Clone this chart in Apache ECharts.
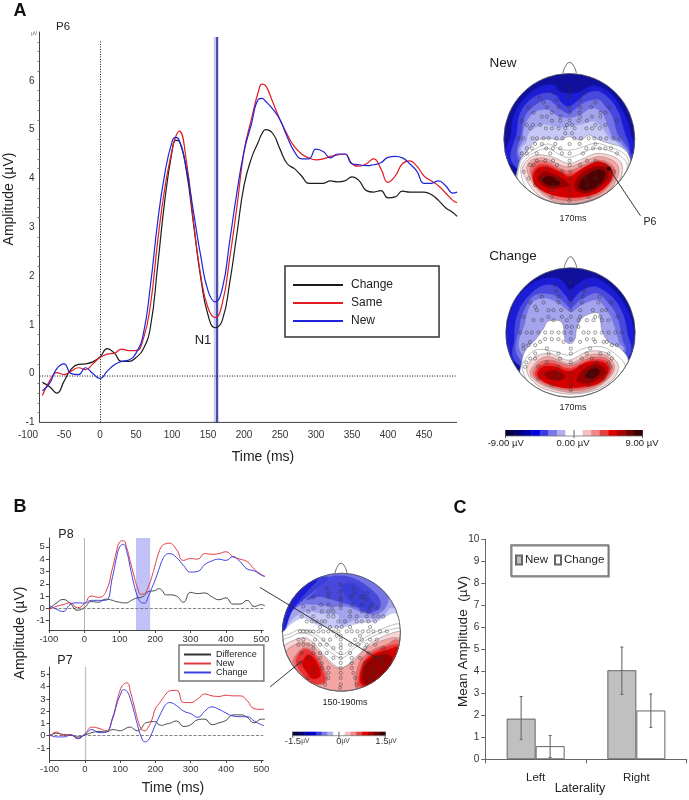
<!DOCTYPE html>
<html><head><meta charset="utf-8"><style>html,body{margin:0;background:#fff}#c{width:689px;height:800px}</style>
<script src="https://cdn.jsdelivr.net/npm/echarts@6/dist/echarts.min.js"></script></head><body><div id="c"></div>
<script>
// ---------- Panel A waveforms (ms, µV)
const timesA=[-80,-70,-60,-50,-40,-30,-20,-10,0,10,20,30,40,50,60,70,80,90,100,105,110,120,130,140,150,160,170,180,190,200,210,220,225,230,240,250,260,270,280,290,300,310,320,330,340,350,360,370,380,390,400,410,420,430,440,450,460,470,480,490,496];
const changeA=[-.18,-.27,-.4,-.16,.09,.19,.2,.24,.34,.51,.42,.25,.25,.33,.5,.95,2.2,3.55,4.55,4.78,4.76,4.15,3.05,1.95,1.2,.94,1.1,1.85,2.85,3.85,4.4,4.75,4.92,5.0,4.92,4.6,4.3,4.2,4.05,3.9,3.9,3.9,3.95,3.93,3.95,4.03,3.95,3.75,3.72,3.75,3.6,3.62,3.74,3.72,3.72,3.72,3.67,3.55,3.4,3.3,3.22];
const sameA=[-.45,-.15,.02,-.02,.05,.12,.08,.2,.33,.4,.42,.5,.47,.47,.7,1.4,2.7,3.8,4.57,4.85,4.97,4.35,3.1,2,1.35,1.15,1.45,2.35,3.4,4.55,5.2,5.78,5.93,5.9,5.56,5.2,4.9,4.65,4.5,4.42,4.38,4.4,4.45,4.48,4.5,4.3,4.25,4.3,4.4,4.2,3.92,4.05,4.3,4.36,4.25,4.05,3.95,3.85,3.7,3.55,3.5];
const newA=[-.35,-.2,.1,.2,0,-.02,.12,0,-.1,.05,.18,.25,.28,.42,.8,1.8,3.1,4.1,4.75,4.84,4.78,4.2,3.3,2.4,1.7,1.47,1.75,2.7,3.7,4.55,5.1,5.62,5.64,5.58,5.42,5.2,4.85,4.55,4.4,4.4,4.6,4.55,4.42,4.5,4.5,4.3,4.28,4.26,4.28,4.32,4.43,4.45,4.42,4.3,4.15,3.9,3.9,3.95,3.85,3.7,3.72];
const xTicksA=[-100,-50,0,50,100,150,200,250,300,350,400,450];
const n1Window=[158,165], n1Peak=161.6;
// ---------- Panel B waveforms
const timesB=[-100,-80,-60,-40,-20,0,20,40,60,80,90,100,110,120,130,140,150,160,170,180,190,200,210,220,230,240,260,280,300,320,340,360,380,400,420,440,460,480,500,510];
const diffP8=[-.05,.4,.72,.4,-.15,.05,.55,.5,.75,.65,.55,.5,.45,.45,.6,.75,.85,.9,1.05,1.35,1.4,1.45,1.6,1.45,1.1,1.1,1,.5,1.3,1.2,1.25,.95,.7,.85,.35,.35,.65,.15,.3,.2];
const newP8=[-.1,.15,.3,.45,.05,.35,1,.9,1.3,3.3,4.5,5.4,5.5,4.9,3.8,2.7,1.7,1.15,1.2,1.7,2.5,3.5,4.5,5.1,5.25,5.3,4.8,3.9,4.05,4,4.45,4.4,4.45,4.6,4.2,4,3.8,3.2,2.75,2.6];
const changeP8=[.25,-.05,-.25,.3,.45,.42,.65,.65,.65,2.6,4,5,5.2,4.6,3.3,2,1,.5,.42,.9,1.6,2.3,3.1,3.9,4.35,4.45,4.15,3.5,2.95,3,3.55,3.85,4,3.9,4.2,3.8,3.2,3.05,2.7,2.6];
const diffP7=[0,.2,.1,.05,-.1,.05,.25,.35,.3,.5,.45,.4,.5,.65,.7,.5,.4,.6,1,1.1,1.15,1.15,.9,.85,.95,1,1.2,.75,.9,1.3,1.35,.9,1.05,1.25,1.7,1.7,1.5,1.05,1.35,1.35];
const newP7=[-.1,.3,0,.1,-.25,.15,.7,.6,.4,1.6,2.7,3.7,4.2,4.3,3.5,2.4,1.3,.55,.4,.7,1.3,2.2,2.6,3,3.4,3.65,3.7,2.7,2.7,3,3.4,3.25,3.2,3.3,3.25,3.25,2.85,2.2,2.15,2.2];
const changeP7=[.1,-.1,-.1,.05,-.2,.1,.5,.25,.3,1.5,2.5,3.3,3.75,3.6,2.9,1.9,.8,-.1,-.5,-.35,.2,.9,1.5,2.1,2.55,2.7,2.45,2,1.8,1.5,2,2.35,2.15,1.85,1.6,1.55,1.55,1.2,.9,.8];
const xTicksB=[-100,0,100,200,300,400,500];
const yTicksB=[-1,0,1,2,3,4,5];
const windowB=[146,186];
// ---------- Panel C bars
const lateralities=['Left','Right'];
const meanNew=[1.85,4.05], meanChange=[.6,2.22];
const errNewLow=[.9,2.95], errNewHigh=[2.85,5.1];
const errChangeLow=[.08,1.45], errChangeHigh=[1.08,2.97];
// ---------- Colour scale
const scaleColors=['#00003c','#000070','#0000a8','#0000e0','#3a3ae0','#7878e8','#b0b0f0','#ffffff','#ffffff','#f8c0c0','#f08888','#e84040','#e00000','#a80000','#700000','#380000'];
const D0='#10109c',B1='#1c1cd4',B2='#4848dc',B3='#7474e4',B4='#a4a4ee',B5='#c8c8f6',W='#ffffff',P1='#fbd4d4',P2='#f5a4a4',P3='#ee6c6c',P4='#e83434',P5='#d40000',P6='#960000',P7='#500000',BM='#3a3ed8';
const softEdged=[W,P1,P2,P3];
// ---------- Scalp contours, in scalp-plane units
const newContourColors=[B1,B2,B3,B4,B5,W,W,W,P1,P2,P3,P4,P5,P6,P6,P7,P7];
const newContours=[
[[85,335],[92,260],[100,200],[125,155],[170,115],[218,105],[238,125],[267,132],[300,125],[340,108],[390,130],[430,190],[450,250],[455,330],[267,430]],
[[102,345],[110,250],[120,190],[150,150],[190,130],[225,135],[245,160],[267,170],[295,150],[320,130],[355,125],[390,150],[415,190],[430,240],[448,300],[440,345],[267,430]],
[[120,335],[125,250],[135,200],[160,170],[200,150],[225,165],[250,185],[268,190],[295,170],[320,155],[355,150],[375,170],[395,200],[410,250],[425,270],[435,330],[267,430]],
[[125,325],[128,270],[135,225],[160,190],[200,180],[235,200],[268,205],[300,195],[335,175],[365,190],[380,225],[398,265],[425,285],[430,330],[267,430]],
[[130,315],[140,275],[150,245],[190,225],[235,232],[268,230],[300,225],[340,215],[365,235],[385,262],[415,285],[425,325],[267,430]],
[[115,345],[140,305],[165,275],[200,265],[240,270],[265,260],[300,270],[325,255],[345,265],[385,280],[420,290],[445,315],[450,355],[420,425],[267,480],[120,425]],
[[118,345],[145,310],[200,282],[240,298],[267,300],[295,295],[345,280],[390,292],[430,310],[445,345],[420,420],[267,475],[125,420]],
[[122,355],[150,315],[200,295],[240,315],[267,322],[298,312],[345,295],[395,305],[425,322],[440,350],[420,410],[340,458],[267,465],[195,455],[140,415]],
[[128,362],[140,332],[170,315],[215,320],[265,340],[310,325],[350,310],[400,320],[425,345],[420,385],[395,415],[340,447],[267,462],[200,450],[155,415]],
[[140,358],[155,330],[195,325],[240,345],[268,350],[310,335],[355,320],[395,330],[415,355],[405,395],[375,430],[320,452],[267,460],[210,447],[165,410]],
[[150,362],[165,335],[200,335],[240,355],[268,362],[310,345],[355,330],[390,342],[405,365],[395,395],[360,430],[310,447],[267,452],[215,442],[170,410]],
[[155,370],[175,345],[205,345],[245,365],[270,372],[315,352],[358,340],[385,352],[395,372],[385,400],[350,428],[300,442],[250,442],[205,427],[170,400]],
[[158,385],[172,355],[205,352],[245,370],[270,380],[315,350],[355,335],[388,350],[397,372],[385,400],[350,428],[300,440],[250,440],[205,430],[170,410]],
[[172,385],[192,365],[225,375],[255,392],[262,408],[215,415],[185,405]],
[[282,405],[300,372],[345,350],[380,356],[385,378],[365,405],[325,428],[295,425]],
[[185,390],[205,378],[235,392],[235,405],[205,405]],
[[295,405],[315,378],[355,358],[375,370],[358,402],[325,420],[303,418]]
];
const changeContourColors=[B1,B2,B3,B4,W,W,P1,P2,P3,P4,P5,P6,P6,P7];
const changeContours=[
[[85,335],[80,260],[95,190],[125,140],[175,105],[225,98],[250,112],[270,135],[295,115],[340,98],[395,130],[440,190],[460,260],[452,335],[271,430]],
[[112,355],[103,280],[110,215],[135,165],[180,125],[225,122],[255,150],[272,170],[300,140],[345,125],[395,155],[425,200],[440,260],[440,340],[271,430]],
[[118,340],[120,240],[135,190],[165,150],[220,150],[255,175],[272,190],[300,165],[350,145],[385,175],[410,215],[425,280],[425,335],[271,430]],
[[125,325],[135,235],[155,175],[195,160],[235,175],[272,200],[305,180],[350,165],[375,190],[395,225],[415,290],[420,325],[271,430]],
[[125,350],[140,310],[165,285],[190,250],[205,228],[245,232],[255,285],[272,295],[285,280],[290,250],[310,215],[355,205],[365,255],[385,290],[420,310],[445,350],[420,420],[271,480],[130,420]],
[[128,375],[130,350],[165,315],[220,318],[265,330],[310,310],[365,305],[410,330],[435,365],[410,410],[350,447],[270,460],[190,447],[145,410]],
[[140,370],[165,335],[210,325],[265,345],[320,320],[370,320],[405,345],[415,370],[395,405],[345,435],[270,447],[195,432],[155,405]],
[[150,380],[175,345],[210,335],[268,355],[325,330],[375,330],[400,355],[400,380],[375,410],[330,435],[270,442],[205,427],[165,405]],
[[158,382],[178,352],[215,345],[270,360],[330,338],[375,338],[395,360],[392,385],[367,412],[325,430],[270,436],[210,424],[172,405]],
[[165,385],[183,360],[220,355],[270,370],[328,346],[372,346],[390,368],[382,392],[358,414],[320,425],[270,430],[212,418],[178,402]],
[[172,385],[190,365],[225,365],[270,378],[320,352],[368,352],[385,372],[372,400],[345,418],[300,425],[255,428],[210,418],[185,405]],
[[195,385],[225,375],[255,392],[240,405],[205,400]],
[[290,402],[310,372],[345,358],[375,370],[368,392],[335,412],[300,412]],
[[315,390],[335,370],[355,372],[355,388],[330,400]]
];
const diffContourColors=[B5,B4,B3,B2,BM,B1,BM,W,W,P1,P2,P3,P3,P4,P4,P5,P5,P6];
const diffContours=[
[[20,262],[60,225],[100,205],[140,225],[190,235],[230,230],[270,220],[320,215],[370,190],[410,200],[300,40],[100,40],[15,200]],
[[30,250],[70,205],[110,185],[150,190],[190,195],[205,195],[215,225],[270,205],[330,205],[360,175],[390,170],[340,80],[250,50],[150,50],[40,130]],
[[25,240],[60,190],[95,165],[140,165],[190,170],[230,170],[270,185],[310,195],[345,175],[352,130],[290,75],[210,62],[140,62],[50,120],[20,210]],
[[110,150],[140,120],[170,85],[220,78],[270,95],[320,135],[330,170],[295,190],[255,170],[205,155],[150,140]],
[[25,238],[48,165],[85,120],[140,85],[175,85],[130,125],[100,150],[60,190],[46,238]],
[[25,238],[40,165],[80,115],[135,78],[140,92],[110,125],[70,175],[42,238]],
[[215,110],[245,100],[280,125],[310,160],[290,178],[250,160],[225,135]],
[[25,270],[60,252],[90,240],[130,250],[170,280],[215,315],[260,280],[320,245],[385,222],[410,240],[400,320],[320,440],[214,450],[100,440],[25,330]],
[[25,280],[60,262],[90,250],[130,260],[165,295],[215,325],[260,290],[320,255],[385,235],[410,250],[400,320],[320,440],[214,450],[100,440],[25,330]],
[[32,295],[90,265],[125,275],[170,325],[214,355],[260,320],[310,275],[385,245],[410,260],[400,320],[340,430],[214,450],[90,430],[30,330]],
[[45,320],[85,280],[120,285],[160,320],[190,350],[215,355],[250,335],[290,295],[345,270],[385,265],[405,290],[345,430],[214,450],[90,430]],
[[75,320],[100,295],[130,305],[160,350],[170,395],[140,405],[100,380],[70,345]],
[[255,400],[270,335],[310,300],[350,285],[380,270],[400,300],[360,380],[310,415],[270,425]],
[[78,335],[100,300],[130,312],[155,355],[165,395],[130,402],[100,378]],
[[265,395],[278,340],[315,305],[375,285],[392,300],[355,370],[305,412],[275,412]],
[[97,340],[115,315],[138,335],[152,375],[130,388],[108,365]],
[[270,395],[280,345],[310,315],[355,300],[385,295],[375,345],[335,395],[295,412]],
[[278,395],[285,350],[315,320],[355,315],[365,335],[340,375],[300,405]]
];
// ---------- Electrode rows [y,[x...]]
const electrodesNew=[[113,[267]],[130,[222,267,313]],[143,[178,267]],[150,[230,300]],[158,[190,345]],[172,[145,200,235,267,300,333,388]],[188,[160,215,268,298,360,375]],[200,[185,200,240,300,335,360]],[212,[125,215,240,268,295,320,410]],[225,[140,158,180,260,275,345,375]],[235,[150,197,215,235,255,283,318,335,358]],[250,[255,275]],[265,[115,130,157,170,190,205,228,247,282,302,325,342,360,378,398,418]],[282,[165,185,225,268,298,345]],[295,[140,155,198,218,240,318,338,358,375,392]],[310,[125,140,170,210,245,268,308,410]],[332,[170,195,218,268,320,345]],[345,[150,160,230,268,300,375]],[355,[200]],[365,[130,175,245,270,345,400]],[385,[145,185,230,268,315,345,385]],[405,[165,220,268,320,355]],[420,[215,268,325]],[440,[215,268,325]],[452,[267]]];
const electrodesChange=[[112,[271]],[120,[225,318]],[138,[228,271,312]],[155,[185,235,271,308,358]],[172,[150,190,235,272,305,355,393]],[185,[165]],[195,[170,205,220,243,272,300,338,365,378]],[215,[130,205,245,272,300,345,360,412]],[225,[160,185,220,260,295,320,340,365,385]],[245,[260,275,295]],[262,[120,140,155,175,195,215,235,252,272,310,325,345,365,385,405,425]],[282,[195,215,235,272,320,340]],[290,[150,180,250,300,345,370,380]],[300,[130,145,165,395,410]],[310,[130,200,272,330]],[325,[165,205,235,272,320,360,385]],[340,[150,165,240,305,335,395]],[352,[138,200,272,350,385]],[365,[135,175,235,300,340,390]],[385,[190,235,272,315,335,375]],[400,[175,225,272,325,370]],[420,[215,272,325]],[435,[272]]];
const electrodesDiff=[[105,[212]],[115,[170,250]],[125,[210]],[130,[175,252,292]],[142,[130,175,212,245,272,280]],[150,[212,290]],[165,[153,175,212,248,275,308]],[170,[100]],[175,[130,185,212,300,322]],[185,[115,155,175,190,240,275,295]],[200,[95,130,175,190,240,260,290,310,325,340]],[215,[110,125,140,155,165,205,225,260,275,295,315]],[232,[150,180,200,215,240,300]],[245,[90,100,110,120,130,145,160,175,190,205,230,245,262,278,295,310,330,350]],[258,[200,212,270]],[270,[85,100,135,160,180,212,255,275,300,320]],[285,[85,100,115,130,150,170,212,240,265,290,315]],[295,[130,190,212,285,340]],[310,[95,130,150,170,212,240,295,345]],[325,[115,150,190,212,245,270,318,335]],[340,[90,155,212,245,285,335]],[355,[130,155,175,212,245,285,305]],[370,[130,175,212,250,280,310]],[385,[115,175,212,255,300]],[405,[165,212,260]],[415,[210]]];
const noseNew=[[248,70],[255,50],[268,38],[281,50],[288,70]];
const noseChange=[[252,68],[259,48],[271,35],[283,48],[290,68]];
const noseDiff=[[195,70],[202,50],[213,40],[224,50],[231,70]];
const p6Site=[385,355];
const leadersNew=[[[385,355],[480,497]]];
const leadersDiff=[[[-30,113],[320,325]],[[0,412],[97,333]]];

const FONT='"Liberation Sans",Arial,sans-serif';
const grid=[],xAxis=[],yAxis=[],series=[];
const AXC='#444',TXT='#333';
function addGrid(g,x,y){grid.push(g);x.gridIndex=y.gridIndex=grid.length-1;xAxis.push(x);yAxis.push(y);return grid.length-1;}
const idx=i=>({xAxisIndex:i,yAxisIndex:i});
const lbl=(o)=>Object.assign({color:TXT,fontFamily:FONT,fontSize:10},o);
const line=(i,name,xs,ys,color,w,extra)=>Object.assign({type:'line',name,...idx(i),data:xs.map((t,k)=>[t,ys[k]]),smooth:.5,symbol:'none',lineStyle:{color,width:w},itemStyle:{color},z:5,clip:false,animation:false},extra||{});
const ML=(data,color,type,width)=>({silent:true,symbol:'none',animation:false,label:{show:false},emphasis:{disabled:true},lineStyle:{color,type,width},data});

// Panel A
const ga=addGrid({left:28,top:32,width:429,height:390.4},
 {type:'value',min:-100,max:495.8,axisLine:{show:false},axisTick:{show:false},splitLine:{show:false},axisLabel:lbl({customValues:xTicksA,margin:8,fontSize:10})},
 {type:'value',min:-1,max:7,interval:1,offset:-11.5,axisLine:{show:true,onZero:false,lineStyle:{color:AXC,width:1}},axisTick:{show:false},minorTick:{show:true,splitNumber:5,length:2,lineStyle:{color:'#777'}},splitLine:{show:false},minorSplitLine:{show:false},axisLabel:lbl({margin:5,fontSize:10,formatter:v=>v===7?'':String(v)})});
const axisBaseA=[[-84,-1],[495.8,-1]];
series.push({type:'line',name:'baseA',...idx(ga),data:axisBaseA,symbol:'none',lineStyle:{color:AXC,width:1},silent:true,z:3,animation:false,
 markArea:{silent:true,animation:false,itemStyle:{color:'#c6c8f5'},data:[[{xAxis:n1Window[0],yAxis:-1},{xAxis:n1Window[1],yAxis:6.9}]]},
 markLine:ML([[{xAxis:n1Peak,yAxis:-1},{xAxis:n1Peak,yAxis:6.9}]],'#26267e','solid',1.5)});
series.push({type:'line',name:'refA',...idx(ga),data:[[-84,-.05],[495.8,-.05]],symbol:'none',lineStyle:{color:'#111',type:[1,1.5],width:1},silent:true,z:3,animation:false,
 markLine:ML([[{xAxis:0,yAxis:-1},{xAxis:0,yAxis:6.83}]],'#111',[1,1.5],1)});
series.push(line(ga,'A:Change',timesA,changeA,'#1c1c1c',1.2));
series.push(line(ga,'A:Same',timesA,sameA,'#e01c24',1.2));
series.push(line(ga,'A:New',timesA,newA,'#1f24d8',1.2));

// Panels B
function waveGrid(top,h,yMin,yMax,left){
 return addGrid({left,top,width:263.3-left,height:h},
 {type:'value',min:-100,max:(263.3-84.3)/.354,axisLine:{show:true,onZero:false,lineStyle:{color:AXC}},axisTick:{customValues:xTicksB,length:3,lineStyle:{color:AXC}},splitLine:{show:false},axisLabel:lbl({customValues:xTicksB,margin:4,fontSize:9.5})},
 {type:'value',min:yMin,max:yMax,axisLine:{show:true,onZero:false,lineStyle:{color:AXC}},axisTick:{customValues:yTicksB,length:3,lineStyle:{color:AXC}},splitLine:{show:false},axisLabel:lbl({customValues:yTicksB,margin:4,fontSize:9.5})});
}
const g8=waveGrid(538,92,-1.76,5.72,48.9);
const g7=waveGrid(667,93,-1.98,5.6,49.5);
series.push(line(g8,'B:Difference',timesB,diffP8,'#333',.9,{markLine:ML([{yAxis:0}],'#666','dashed',.8),markArea:{silent:true,animation:false,itemStyle:{color:'#c0c2f7'},data:[[{xAxis:windowB[0]},{xAxis:windowB[1]}]]}}));
series.push(line(g8,'B:New',timesB,newP8,'#e23a44',1,{markLine:ML([{xAxis:0}],'#b5b5b5','solid',1)}));
series.push(line(g8,'B:Change',timesB,changeP8,'#3c40e0',1));
series.push(line(g7,'B7:Difference',timesB,diffP7,'#333',.9,{markLine:ML([{yAxis:0}],'#666','dashed',.8)}));
series.push(line(g7,'B7:New',timesB,newP7,'#e23a44',1,{markLine:ML([{xAxis:0}],'#c4c4c4','solid',1.4)}));
series.push(line(g7,'B7:Change',timesB,changeP7,'#3c40e0',1));

// Closed outline through the contour's read points, kept inside the head circle
function outline(pts,mx,my,Rd){
 const n=pts.length,out=[],S=10;
 for(let i=0;i<n;i++){
  const a=pts[(i-1+n)%n],b=pts[i],c=pts[(i+1)%n],d=pts[(i+2)%n];
  for(let k=0;k<S;k++){
   const t=k/S,t2=t*t,t3=t2*t;
   let x=.5*(2*b[0]+(c[0]-a[0])*t+(2*a[0]-5*b[0]+4*c[0]-d[0])*t2+(3*b[0]-a[0]-3*c[0]+d[0])*t3);
   let y=.5*(2*b[1]+(c[1]-a[1])*t+(2*a[1]-5*b[1]+4*c[1]-d[1])*t2+(3*b[1]-a[1]-3*c[1]+d[1])*t3);
   const dx=x-mx,dy=y-my,r=Math.hypot(dx,dy);
   if(r>Rd){x=mx+dx/r*Rd;y=my+dy/r*Rd;}
   out.push([x,y]);
  }
 }
 return out;
}
// Scalp maps
function scalp(cx,cy,R,ux0,ux1,uy0,uy1,base,contours,colors,rows,nose,leaders,filled){
 const i=addGrid({left:cx-R,top:cy-R,width:2*R,height:2*R},
  {type:'value',min:ux0,max:ux1,show:false},{type:'value',min:uy0,max:uy1,inverse:true,show:false});
 const mx=(ux0+ux1)/2,my=(uy0+uy1)/2,Rd=(ux1-ux0)/2;
 series.push({type:'custom',name:'base'+i,...idx(i),silent:true,z:1,animation:false,clip:false,data:[[mx,my]],
  renderItem:(p,api)=>{const c=api.coord([mx,my]);return{type:'circle',shape:{cx:c[0],cy:c[1],r:R},style:{fill:base}};}});
 series.push({type:'custom',name:'contours'+i,...idx(i),silent:true,z:2,animation:false,clip:false,data:contours.map((_,k)=>[mx,my,k]),
  renderItem:(p,api)=>{const f=colors[p.dataIndex];return{type:'polygon',shape:{points:outline(contours[p.dataIndex],mx,my,Rd).map(q=>api.coord(q))},style:{fill:f,stroke:softEdged.includes(f)?'#7a7a7a':f,lineWidth:.5}};}});
 series.push({type:'custom',name:'outline'+i,...idx(i),silent:true,z:3,animation:false,clip:false,data:[[mx,my]],
  renderItem:(p,api)=>{const c=api.coord([mx,my]);return{type:'group',children:[
   {type:'circle',shape:{cx:c[0],cy:c[1],r:R},style:{fill:'none',stroke:'#555',lineWidth:.8}},
   {type:'polyline',shape:{points:nose.map(q=>api.coord(q)),smooth:.5},style:{fill:'none',stroke:'#444',lineWidth:.8}},
   ...leaders.map(l=>({type:'line',shape:{x1:api.coord(l[0])[0],y1:api.coord(l[0])[1],x2:api.coord(l[1])[0],y2:api.coord(l[1])[1]},style:{stroke:'#222',lineWidth:.9}}))
  ]};}});
 const pts=[];rows.forEach(r=>r[1].forEach(x=>pts.push([x,r[0]])));
 series.push({type:'scatter',name:'electrodes'+i,...idx(i),symbol:'circle',symbolSize:3.2,silent:true,z:4,animation:false,data:pts,itemStyle:{color:'rgba(0,0,0,0)',borderColor:'#333',borderWidth:.6}});
 if(filled)series.push({type:'scatter',name:'site'+i,...idx(i),symbol:'circle',symbolSize:4.5,silent:true,z:4,animation:false,data:[filled],itemStyle:{color:'#111'}});
}
scalp(569.3,139,65.5,71,463,71,463,D0,newContours,newContourColors,electrodesNew,noseNew,leadersNew,p6Site);
scalp(570.5,332.5,64.7,77,465,68,456,D0,changeContours,changeContourColors,electrodesChange,noseChange,[],null);
scalp(341.4,632.2,59,37,391,70,425,W,diffContours,diffContourColors,electrodesDiff,noseDiff,leadersDiff,null);

// Colour bars
function colourBar(left,top,width,height,tickH){
 const i=addGrid({left,top,width,height},{type:'value',min:0,max:16,show:false},{type:'value',min:0,max:1,show:false});
 series.push({type:'custom',name:'scale'+i,...idx(i),silent:true,animation:false,z:3,data:scaleColors.map((c,k)=>[k,0]),
  renderItem:(p,api)=>{const a=api.coord([p.dataIndex,1]),b=api.coord([p.dataIndex+1,0]);
   return{type:'rect',shape:{x:a[0],y:a[1],width:b[0]-a[0]+.4,height:b[1]-a[1]},style:{fill:scaleColors[p.dataIndex]}};}});
 series.push({type:'custom',name:'scaleTicks'+i,...idx(i),silent:true,animation:false,z:3,data:[[0,0],[8,0],[16,0]],
  renderItem:(p,api)=>{const a=api.coord([api.value(0),0]);return{type:'line',shape:{x1:a[0],y1:a[1]-height,x2:a[0],y2:a[1]+tickH},style:{stroke:'#333',lineWidth:.8}};}});
 series.push({type:'custom',name:'scaleBase'+i,...idx(i),silent:true,animation:false,z:3,data:[[0,0]],
  renderItem:(p,api)=>{const a=api.coord([0,0]),b=api.coord([16,0]);return{type:'line',shape:{x1:a[0],y1:a[1],x2:b[0],y2:b[1]},style:{stroke:'#777',lineWidth:.8}};}});
}
colourBar(505.5,430,137,6,2);
colourBar(292.7,731.7,92.5,4,2);

// Panel C
const BW=29;
const gc=addGrid({left:485.3,top:539.3,width:201.4,height:220},
 {type:'category',data:lateralities,axisLine:{lineStyle:{color:'#666'}},axisTick:{show:true,length:4,lineStyle:{color:'#666'},alignWithLabel:false},axisLabel:lbl({fontSize:11.5,margin:13,color:'#222'})},
 {type:'value',min:0,max:10,interval:1,axisLine:{show:true,lineStyle:{color:'#666'}},axisTick:{show:true,length:4,lineStyle:{color:'#666'}},splitLine:{show:false},axisLabel:lbl({margin:6,fontSize:10})});
const barBorder={borderColor:'#666',borderWidth:1};
series.push({type:'bar',name:'C:New',...idx(gc),data:meanNew,barWidth:BW,barGap:'0%',itemStyle:{color:'#c0c0c0',...barBorder},animation:false,z:2});
series.push({type:'bar',name:'C:Change',...idx(gc),data:meanChange,barWidth:BW,barGap:'0%',itemStyle:{color:'#ffffff',...barBorder},animation:false,z:2});
function errors(name,low,high,off){
 series.push({type:'custom',name,...idx(gc),silent:true,animation:false,z:4,data:low.map((l,k)=>[k,l,high[k]]),
  renderItem:(p,api)=>{const a=api.coord([api.value(0),api.value(1)]),b=api.coord([api.value(0),api.value(2)]);const x=a[0]+off;
   const st={stroke:'#6a6a6a',lineWidth:1.1};
   return{type:'group',children:[{type:'line',shape:{x1:x,y1:a[1],x2:x,y2:b[1]},style:st},
    {type:'line',shape:{x1:x-1.5,y1:a[1],x2:x+1.5,y2:a[1]},style:st},{type:'line',shape:{x1:x-1.5,y1:b[1],x2:x+1.5,y2:b[1]},style:st}]};}});
}
errors('errNew',errNewLow,errNewHigh,-BW/2);
errors('errChange',errChangeLow,errChangeHigh,BW/2);

const strip=n=>n.split(':')[1];
const noDot={opacity:0};
const legend=[
 {left:285,top:266,orient:'vertical',data:['A:Change','A:Same','A:New'],formatter:strip,selectedMode:false,itemWidth:50,itemHeight:10,itemGap:6,itemStyle:noDot,padding:[13,46,10,7],borderColor:'#333',borderWidth:1.5,textStyle:{fontFamily:FONT,fontSize:12,color:'#222',padding:[0,0,0,3]}},
 {left:179,top:645,orient:'vertical',data:['B:Difference','B:New','B:Change'],formatter:strip,selectedMode:false,itemWidth:27,itemHeight:8,itemGap:0,itemStyle:noDot,padding:[5,7,4,4],borderColor:'#777',borderWidth:1.5,textStyle:{fontFamily:FONT,fontSize:9,color:'#222'}},
 {left:511,top:545,orient:'horizontal',icon:'rect',data:['C:New','C:Change'],formatter:strip,selectedMode:false,itemWidth:6,itemHeight:9,itemGap:6,padding:[9,4,10,4],borderColor:'#777',borderWidth:1.5,shadowColor:'#aaa',shadowBlur:0,shadowOffsetX:1,shadowOffsetY:1,textStyle:{fontFamily:FONT,fontSize:11.5,color:'#222',padding:[0,0,0,-2]}}
];
const T=(x,y,text,size,o)=>Object.assign({type:'text',x,y,z:100,silent:true,style:Object.assign({text,fontFamily:FONT,fontSize:size,fill:'#222',align:'center',verticalAlign:'middle'},(o&&o.style)||{})},o&&o.rotation?{rotation:o.rotation}:{});
const RT=Math.PI/2;
const unit=(v,x,y,s1,s2)=>({type:'text',x,y,z:100,silent:true,style:{text:`{a|${v}}{b|µV}`,align:'center',verticalAlign:'middle',rich:{a:{fontFamily:FONT,fontSize:s1,fill:'#333'},b:{fontFamily:FONT,fontSize:s2,fill:'#333'}}}});
const graphic=[
 T(20,11,'A',18,{style:{fontWeight:'bold',fill:'#111'}}),T(20,507,'B',18,{style:{fontWeight:'bold',fill:'#111'}}),T(460,508,'C',18,{style:{fontWeight:'bold',fill:'#111'}}),
 T(63,27,'P6',11.5),T(34,34,'µV',5,{style:{fill:'#666'}}),T(203,340,'N1',13),
 T(9,199,'Amplitude (µV)',14,{rotation:RT}),T(263,457,'Time (ms)',14),
 T(503,63,'New',13.5),T(513,256,'Change',13.5),T(573,219,'170ms',9),T(573,408,'170ms',9),T(650,222,'P6',10.5),
 T(505.7,443,'-9.00 µV',9.5),T(573,443,'0.00 µV',9.5),T(642,443,'9.00 µV',9.5),
 T(66,535,'P8',12.5),T(65,661,'P7',12.5),T(20,633,'Amplitude (µV)',14,{rotation:RT}),T(173,788,'Time (ms)',14),
 T(345,703,'150-190ms',9),
 unit('-1.5',297,741.5,9.5,6.5),unit('0',343,741.5,9.5,6.5),unit('1.5',386,741.5,9.5,6.5),
 T(463,641.5,'Mean Amplitude  (µV)',13.5,{rotation:RT}),T(580,789,'Laterality',12.5)
];
const chart=echarts.init(document.getElementById('c'),null,{renderer:'canvas'});
chart.setOption({animation:false,backgroundColor:'#fff',tooltip:{show:false},grid,xAxis,yAxis,series,legend,graphic});
</script></body></html>
